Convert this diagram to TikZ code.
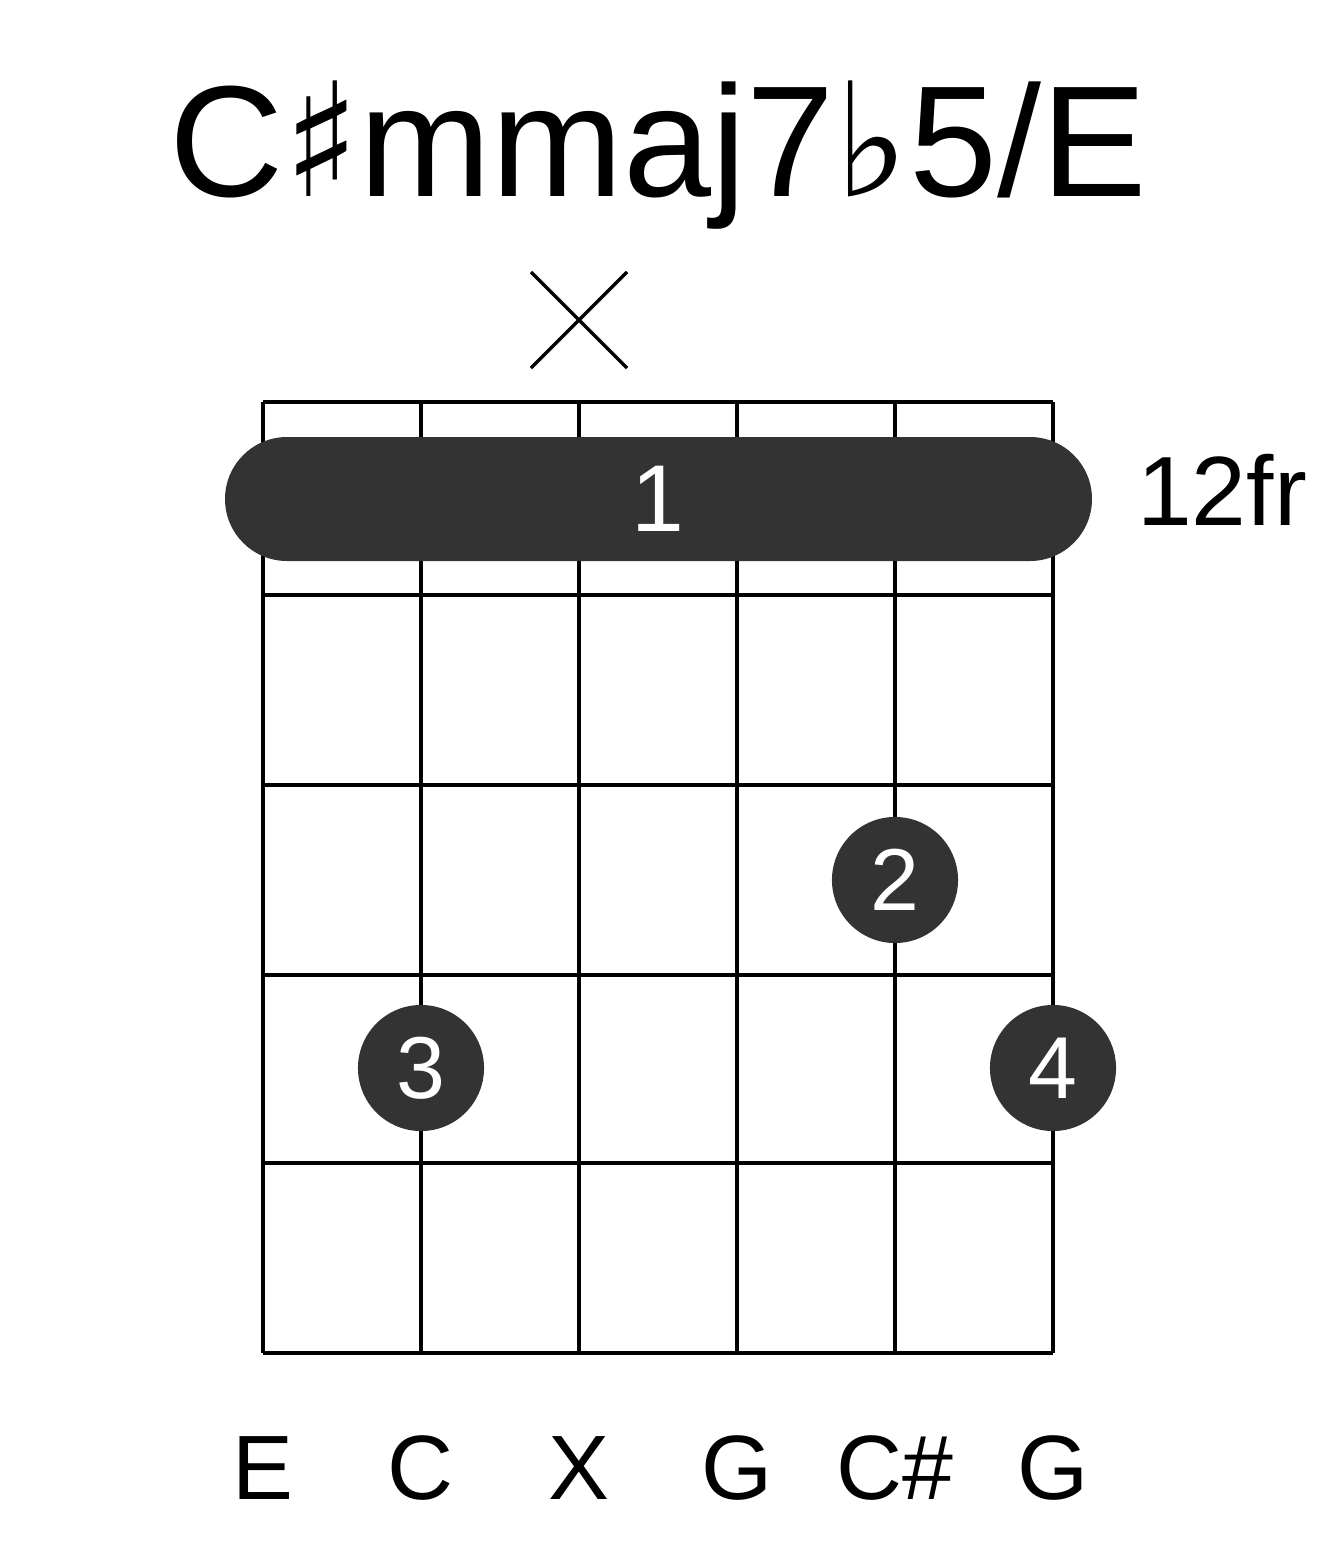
\documentclass[tikz,border=0pt]{standalone}
\usepackage{fontspec}
\setmainfont{Liberation Sans}
\newfontfamily\symfont{DejaVu Sans}
\definecolor{dotgray}{HTML}{333333}
\tikzset{
  fingerdot/.style={circle, fill=dotgray, minimum size=1.26cm, inner sep=0pt, text=white, font=\fontsize{25}{25}\selectfont},
  notelabel/.style={font=\fontsize{26}{26}\selectfont},
}
\begin{document}
\begin{tikzpicture}[x=0.01cm, y=-0.01cm, line width=1.2pt]
    % Marco
    \useasboundingbox (0,0) rectangle (1317,1551);

    % Titulo
    \node (title) at (658,155) {\fontsize{45}{45}\selectfont C{\symfont\char"266F}mmaj7{\symfont\char"266D}5/E};

    % Cuerda muda
    \draw[line width=1pt] (531,272) -- (627,368);
    \draw[line width=1pt] (627,272) -- (531,368);

    % Cuerdas
    \foreach \x in {263,421,579,737,895,1053}
        \draw (\x,402) -- (\x,1353);
    % Trastes
    \foreach \y in {402,595,785,975,1163,1353}
        \draw (263,\y) -- (1053,\y);

    % Cejilla
    \fill[dotgray, rounded corners=0.62cm] (225,437) rectangle (1092,561);
    \node[text=white, font=\fontsize{27}{27}\selectfont] (barre) at (658,499) {1};
    \node[font=\fontsize{28}{28}\selectfont] (fret) at (1222,490) {12fr};

    % Dedos
    \node[fingerdot] (f2) at (895,880) {2};
    \node[fingerdot] (f3) at (421,1068) {3};
    \node[fingerdot] (f4) at (1053,1068) {4};

    % Notas
    \node[notelabel] (n1) at (263,1468) {E};
    \node[notelabel] (n2) at (421,1468) {C};
    \node[notelabel] (n3) at (579,1468) {X};
    \node[notelabel] (n4) at (737,1468) {G};
    \node[notelabel] (n5) at (895,1468) {C\#};
    \node[notelabel] (n6) at (1053,1468) {G};
\end{tikzpicture}
\end{document}
